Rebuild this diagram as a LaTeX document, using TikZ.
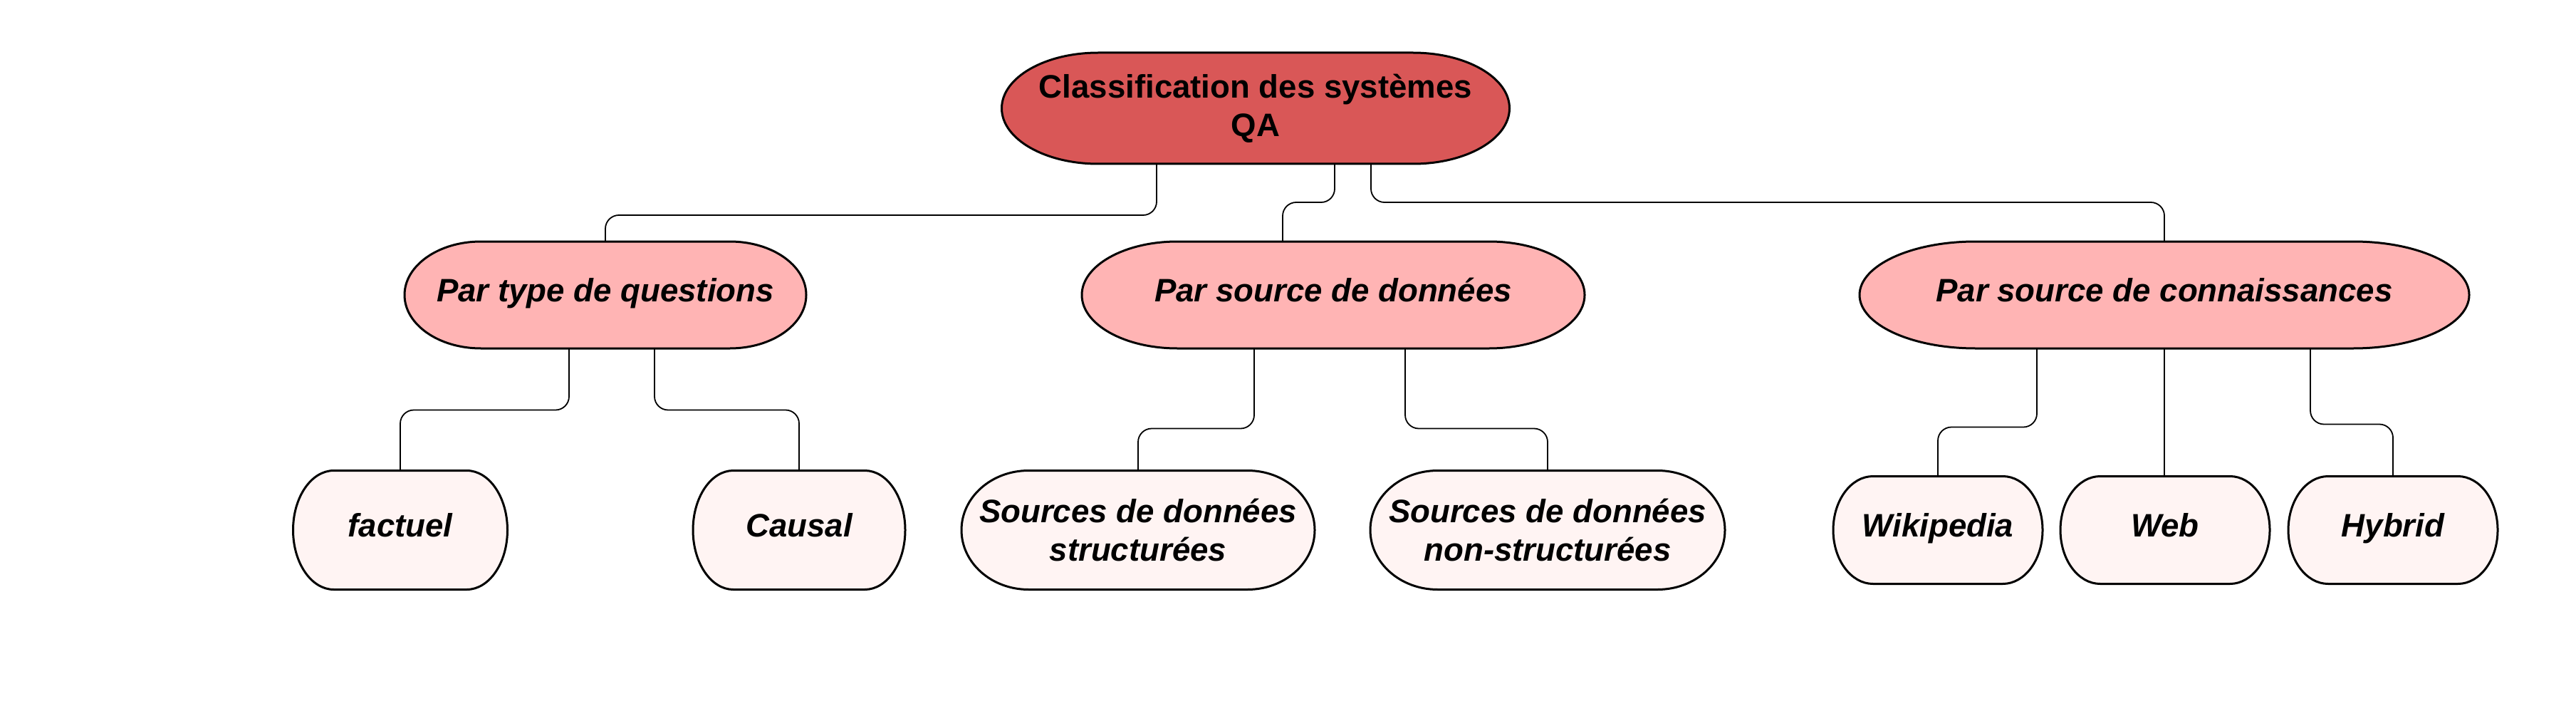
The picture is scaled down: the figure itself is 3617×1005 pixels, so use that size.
\documentclass[tikz,border=0pt]{standalone}
\usepackage{fontspec}
\setmainfont{Liberation Sans}
\usepackage{tikz}
\usetikzlibrary{calc}
\usetikzlibrary{backgrounds}
\definecolor{rootred}{RGB}{217,87,87}
\definecolor{midpink}{RGB}{255,180,180}
\definecolor{leafpink}{RGB}{255,244,243}

\begin{document}
\begin{tikzpicture}[x=0.25pt, y=-0.25pt,
  box/.style={rectangle, inner sep=0pt, outer sep=0pt, align=center, font=\fontsize{11.4}{13.5}\selectfont\bfseries\itshape},
  rootbox/.style={box, font=\fontsize{11.4}{13.5}\selectfont\bfseries},
  oneline/.style={text height=8pt, text depth=3.2pt},
  midbox/.style={box, oneline, minimum height=37.5pt},
  leafbox/.style={box, minimum height=41.75pt},
  webbox/.style={box, oneline, minimum width=73.5pt, minimum height=37.75pt},
  link/.style={line width=0.45pt, rounded corners=4.75pt}]
\useasboundingbox (0,0) rectangle (3617,1005);
\node[rootbox, minimum width=178.25pt, minimum height=39pt] (root) at (1763,152) {Classification des systèmes\\QA};
\node[midbox, minimum width=141pt] (pqt) at (850,414) {Par type de questions};
\node[midbox, minimum width=176.5pt] (psd) at (1872,414) {Par source de données};
\node[midbox, minimum width=214pt] (psc) at (3039,414) {Par source de connaissances};
\node[leafbox, oneline, minimum width=75.25pt] (fact) at (562,744) {factuel};
\node[leafbox, oneline, minimum width=74.5pt] (caus) at (1122,744) {Causal};
\node[leafbox, minimum width=124pt] (sds) at (1598,744) {Sources de données\\structurées};
\node[leafbox, minimum width=124.5pt] (sdns) at (2173,744) {Sources de données\\non-structurées};
\node[webbox] (wiki) at (2721,744) {Wikipedia};
\node[webbox] (web) at (3040,744) {Web};
\node[webbox] (hyb) at (3360,744) {Hybrid};
\begin{scope}[on background layer]
\foreach \nd/\col in {root/rootred, pqt/midpink, psd/midpink, psc/midpink, fact/leafpink, caus/leafpink, sds/leafpink, sdns/leafpink, wiki/leafpink, web/leafpink, hyb/leafpink}
  \path[draw, line width=0.75pt, fill=\col]
    let \p1=(\nd.south west), \p2=(\nd.north east),
        \n1={0.19*(\x2-\x1)}, \n2={0.5*(\y2-\y1)} in
    (\x1+\n1,\y1) -- (\x2-\n1,\y1)
    arc[start angle=-90, end angle=90, x radius=\n1, y radius=\n2]
    -- (\x1+\n1,\y2)
    arc[start angle=90, end angle=270, x radius=\n1, y radius=\n2] -- cycle;
\end{scope}
\draw[link] ($(root.south)+(-139,0)$) |- ($(pqt.north)+(0,-37)$) -- (pqt.north);
\draw[link] ($(root.south)+(111,0)$) |- ($(psd.north)+(-71,-55)$) -- ($(psd.north)+(-71,0)$);
\draw[link] ($(root.south)+(162,0)$) |- ($(psc.north)+(0,-55)$) -- (psc.north);
\draw[link] ($(pqt.south)+(-51,0)$) |- ($(fact.north)+(0,-85)$) -- (fact.north);
\draw[link] ($(pqt.south)+(69,0)$) |- ($(caus.north)+(0,-85)$) -- (caus.north);
\draw[link] ($(psd.south)+(-111,0)$) |- ($(sds.north)+(0,-59)$) -- (sds.north);
\draw[link] ($(psd.south)+(101,0)$) |- ($(sdns.north)+(0,-59)$) -- (sdns.north);
\draw[link] ($(psc.south)+(-179,0)$) |- ($(wiki.north)+(0,-69)$) -- (wiki.north);
\draw[link] (psc.south) -- (psc.south |- web.north);
\draw[link] ($(psc.south)+(205,0)$) |- ($(hyb.north)+(0,-73)$) -- (hyb.north);
\end{tikzpicture}
\end{document}
